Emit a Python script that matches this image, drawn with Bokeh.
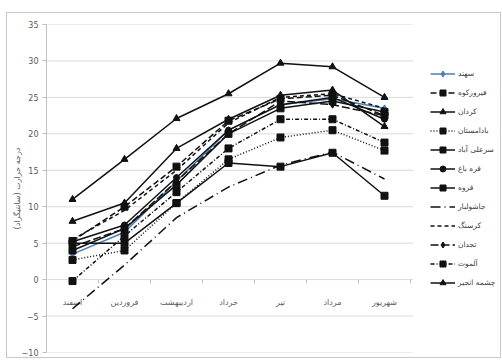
from bokeh.plotting import figure
from bokeh.models import Range1d, FixedTicker, Legend, LegendItem, ColumnDataSource
from bokeh.core.properties import value
from bokeh.embed import file_html
from bokeh.resources import INLINE

# Monthly mean temperature (°C) per station
months = ["اسفند", "فروردین", "اردیبهشت", "خرداد", "تیر", "مرداد", "شهریور"]
y_ticks = [-10, -5, 0, 5, 10, 15, 20, 25, 30, 35]

sahand = [3.5, 6.5, 13.5, 20.5, 24.0, 24.8, 23.5]
firuzkuh = [5.3, 10.0, 15.5, 21.8, 24.8, 25.3, 22.5]
kordan = [8.0, 10.5, 18.0, 22.0, 25.3, 26.0, 21.0]
badamestan = [2.7, 4.0, 10.5, 16.5, 19.5, 20.5, 17.7]
sarali_abad = [5.0, 5.0, 10.5, 16.0, 15.5, 17.4, 11.5]
gharebagh = [5.2, 7.5, 14.0, 20.5, 24.0, 25.0, 22.0]
ghorveh = [4.0, 7.0, 13.0, 20.0, 23.5, 24.5, 23.0]
jasholbar = [-4.0, 2.0, 8.5, 12.7, 15.7, 17.5, 13.8]
karsang = [5.5, 9.5, 15.0, 21.5, 25.0, 25.5, 23.5]
tajdan = [4.5, 7.0, 13.5, 20.0, 24.5, 24.0, 22.5]
almut = [-0.2, 6.0, 12.0, 18.0, 22.0, 22.0, 18.8]
cheshme_anjir = [11.0, 16.5, 22.1, 25.5, 29.7, 29.2, 25.0]

names = ["سهند", "فیروزکوه", "کردان", "بادامستان", "سرعلی آباد", "قره باغ",
         "قروه", "جاشولبار", "کرسنگ", "تجدان", "آلموت", "چشمه انجیر"]
values = [sahand, firuzkuh, kordan, badamestan, sarali_abad, gharebagh,
          ghorveh, jasholbar, karsang, tajdan, almut, cheshme_anjir]

# line colour, dash pattern, marker, marker size for each station
styles = [
    ("#4a7ebb", "solid", "diamond", 7),
    ("#111111", "6 3", "square", 7),
    ("#111111", "solid", "triangle", 7),
    ("#111111", "1 2", "square", 7),
    ("#111111", "solid", "square", 7),
    ("#111111", "solid", "circle", 6),
    ("#111111", "solid", "square", 7),
    ("#111111", "10 4 1 4", None, 0),
    ("#111111", "4 3", None, 0),
    ("#111111", "8 3", "diamond", 7),
    ("#111111", "4 2 1 2", "square", 7),
    ("#111111", "solid", "triangle", 7),
]

FONT = "DejaVu Sans"
xs = list(range(len(months)))

# layout (pixels): the frame also holds the legend on its right side
W, H = 493, 344
LEFT, RIGHT, TOP, BOTTOM = 39, 2, 11, 5
STEP = 52  # pixels per month
frame_w = W - LEFT - RIGHT
x_start = -0.5
x_end = x_start + frame_w / STEP

p = figure(width=W, height=H, output_backend="svg", toolbar_location=None,
           x_range=Range1d(x_start, x_end), y_range=Range1d(y_ticks[0], y_ticks[-1]),
           x_axis_location=None,
           min_border_left=LEFT, min_border_right=RIGHT,
           min_border_top=TOP, min_border_bottom=BOTTOM)
p.margin = (13, 2, 3, 7)
p.styles = {"outline": "1px solid #c8c8c8"}
p.outline_line_color = None
p.background_fill_color = "white"
p.border_fill_color = "white"
p.xgrid.visible = False
p.ygrid.visible = False

# horizontal gridlines spanning only the month columns
n = len(months)
p.segment(x0=[-0.5] * len(y_ticks), y0=y_ticks, x1=[n - 0.5 + 0.05] * len(y_ticks), y1=y_ticks,
          line_color="#d9d9d9", line_width=1)

ax = p.yaxis[0]
ax.ticker = FixedTicker(ticks=y_ticks)
ax.axis_line_color = "#bfbfbf"
ax.major_tick_line_color = "#bfbfbf"
ax.major_tick_out = 4
ax.major_tick_in = 0
ax.minor_tick_line_color = None
ax.major_label_text_font = FONT
ax.major_label_text_font_size = "8px"
ax.major_label_text_color = "#595959"
ax.major_label_standoff = 4
ax.axis_label = "درجه حرارت (سانتیگراد)"
ax.axis_label_text_font = FONT
ax.axis_label_text_font_size = "8px"
ax.axis_label_text_font_style = "normal"
ax.axis_label_text_color = "#595959"
ax.axis_label_standoff = -3

# category tick marks on the zero line, between months
bounds = [i - 0.5 for i in range(n + 1)]
p.segment(x0=bounds, y0=[0] * len(bounds), x1=bounds, y1=[-0.5] * len(bounds),
          line_color="#bfbfbf", line_width=1)

# month labels under the zero line
lab = ColumnDataSource(dict(x=xs, y=[0] * n, t=months))
p.text(x="x", y="y", text="t", source=lab, y_offset=23, text_align="center",
       text_baseline="middle", text_font=value(FONT), text_font_size="8px",
       text_color="#595959")

items = []
for name, vals, (color, dash, marker, size) in zip(names, values, styles):
    src = ColumnDataSource(dict(x=xs, y=vals))
    rs = [p.line("x", "y", source=src, line_color=color, line_width=1.5, line_dash=dash)]
    if marker:
        rs.append(p.scatter("x", "y", source=src, marker=marker, size=size,
                            fill_color=color, line_color=color))
    items.append(LegendItem(label=name, renderers=rs))

legend = Legend(items=items, location=(384, 62), padding=0, margin=0, spacing=4,
                glyph_width=25, glyph_height=15, label_height=15, label_standoff=3,
                label_text_font=FONT, label_text_font_size="7.5px",
                label_text_color="#404040", border_line_color=None,
                background_fill_alpha=0)
p.add_layout(legend)

open("out.html", "w").write(file_html(p, INLINE))
